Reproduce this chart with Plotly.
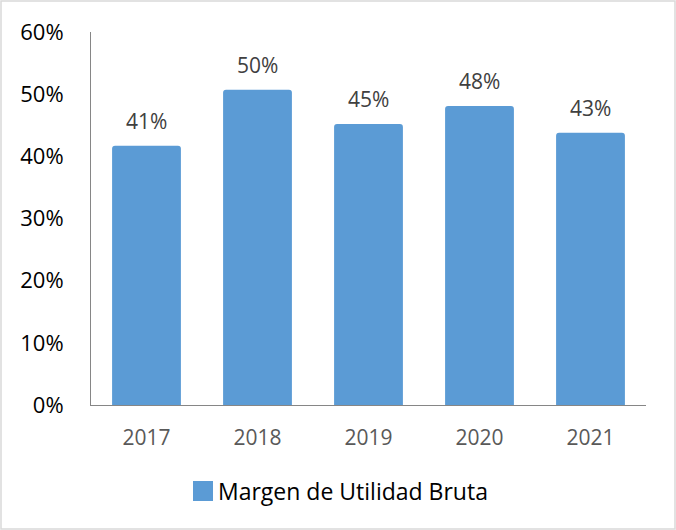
import plotly.graph_objects as go

years = ["2017", "2018", "2019", "2020", "2021"]
margen = [0.417, 0.507, 0.452, 0.481, 0.438]
labels = ["41%", "50%", "45%", "48%", "43%"]
y_ticks = [0, 0.1, 0.2, 0.3, 0.4, 0.5, 0.6]
series_name = "Margen de Utilidad Bruta"

blue = "#5B9BD5"
font = "Open Sans"

fig = go.Figure()

fig.add_trace(go.Bar(
    x=years, y=margen, width=0.62, name=series_name,
    marker=dict(color=blue, line=dict(width=0), cornerradius=3),
    showlegend=False, hoverinfo="skip",
))

# value labels above the bars (x as category index)
for i, (v, lab) in enumerate(zip(margen, labels)):
    fig.add_annotation(x=i, y=v, text=lab, showarrow=False, yanchor="bottom",
                       yshift=9, font=dict(family=font, size=21, color="#404040"))

# legend drawn by hand so the square is as big as in the original
fig.add_shape(type="rect", xref="paper", yref="paper",
              x0=(193 - 91) / 555, x1=(213 - 91) / 555,
              y0=(405 - 501) / 373, y1=(405 - 481) / 373,
              line=dict(width=0), fillcolor=blue)
fig.add_annotation(xref="paper", yref="paper", x=(216 - 91) / 555, y=(405 - 491) / 373,
                   text=series_name, showarrow=False, xanchor="left", yanchor="middle",
                   font=dict(family=font, size=23, color="#000000"))

fig.update_xaxes(
    type="category", range=[-0.5, len(years) - 0.5],
    showline=True, linecolor="#868686", linewidth=1, ticks="",
    tickfont=dict(family=font, size=21, color="#595959"), ticklabelstandoff=14,
    showgrid=False,
)
fig.update_yaxes(
    range=[0, 0.6], tickvals=y_ticks, tickformat=".0%",
    showline=True, linecolor="#868686", linewidth=1, ticks="",
    tickfont=dict(family=font, size=22, color="#000000"), ticklabelstandoff=22,
    showgrid=False, zeroline=False,
)

# outer border of the chart
fig.add_shape(type="rect", xref="paper", yref="paper",
              x0=(1 - 91) / 555, x1=(675 - 91) / 555,
              y0=(405 - 529) / 373, y1=(405 - 1) / 373,
              line=dict(color="#d9d9d9", width=1.5), fillcolor="rgba(0,0,0,0)")

fig.update_layout(
    width=676, height=530,
    margin=dict(l=91, r=30, t=32, b=125, autoexpand=False),
    plot_bgcolor="white", paper_bgcolor="white",
    showlegend=False,
)

fig.write_html("out.html", config={"displayModeBar": False},
               post_script="document.body.style.margin='0';")
